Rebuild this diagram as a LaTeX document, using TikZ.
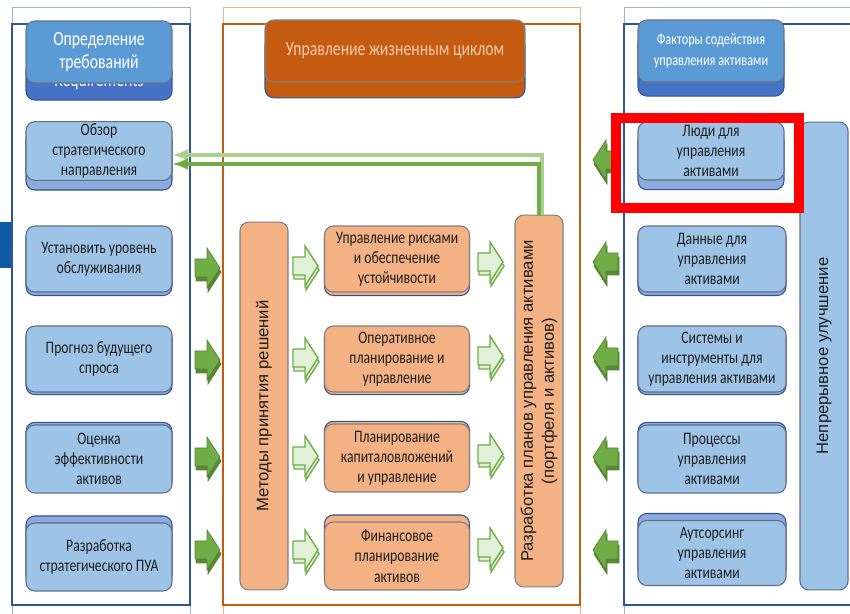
\documentclass[tikz,border=0pt]{standalone}
\usepackage{fontspec}
\setmainfont{Carlito}[FakeStretch=0.78]
\newfontfamily\sidefont{Liberation Sans}
\usetikzlibrary{arrows,shadows,calc}

\definecolor{boxblue}{HTML}{9DC3E6}
\definecolor{backblue}{HTML}{8FAADC}
\definecolor{edgeblue}{HTML}{2F5597}
\definecolor{headblue}{HTML}{5B9BD5}
\definecolor{headback}{HTML}{4472C4}
\definecolor{tabblue}{HTML}{0E5AA7}
\definecolor{rust}{HTML}{C55A11}
\definecolor{peach}{HTML}{F4B183}
\definecolor{peachtext}{HTML}{F8CBAD}
\definecolor{leaf}{HTML}{70AD47}
\definecolor{leafdark}{HTML}{548235}
\definecolor{leaflight}{HTML}{A9D18E}
\definecolor{mint}{HTML}{E2F0D9}
\definecolor{inkgray}{HTML}{1F1F1F}

\begin{document}
\begin{tikzpicture}[
        x=0.02cm, y=-0.02cm,
        every node/.style={inner sep=1pt, align=center, text=inkgray},
        box/.style={rounded corners=5pt, line width=0.6pt,
            minimum width=2.92cm, font=\fontsize{10}{11.5}\selectfont},
        bluebox/.style={box, fill=boxblue, draw=gray!60!edgeblue,
            general shadow={fill=backblue, draw=edgeblue, shadow yshift=#1}},
        bluebox/.default=-2pt,
        peachbox/.style={box, fill=peach, draw=gray,
            general shadow={fill=peach, draw=edgeblue, shadow yshift=#1}},
        peachbox/.default=-2pt,
        headbox/.style={box, minimum height=1.24cm,
            font=\fontsize{11.5}{13.5}\selectfont},
        sidebar/.style={rounded corners=5pt, line width=0.6pt, draw=gray,
            rotate=90, minimum height=0.96cm,
            font=\sidefont\fontsize{9.5}{12}\selectfont},
        fatarrow/.pic={
            \path[pic actions] (0,-9) -- (12,-9) -- (12,-20) -- (25,0)
                -- (12,20) -- (12,9) -- (0,9) -- cycle;
        },
        solidarrow/.style={fill=leaf, draw=leafdark, line width=0.4pt},
        solidback/.style={fill=leafdark!85!leaf, draw=leafdark, line width=0.4pt},
        hollowarrow/.style={fill=mint, draw=leaf, line width=0.8pt},
        feedback/.style={line width=2pt, -latex},
        highlight/.style={draw=red, line width=6.2pt}
    ]

    \useasboundingbox (0,0) rectangle (850,614);
    \clip (0,0) rectangle (850,614);

    % panels
    \fill[tabblue] (0,222) rectangle (12,268);
    \draw[edgeblue!45, line width=0.5pt] (12,7) rectangle (190,630);
    \draw[edgeblue, line width=0.9pt] (12,24) rectangle (190,605);
    \draw[rust!45, line width=0.5pt] (223,7) rectangle (580,630);
    \draw[rust, line width=0.9pt] (223,24) rectangle (580,605);
    \draw[edgeblue!45, line width=0.5pt] (624,7) rectangle (870,630);
    \draw[edgeblue, line width=0.9pt] (624,24) rectangle (870,605);

    % left column
    \node[headbox, fill=headback, draw=edgeblue, text=white, minimum height=0.76cm]
        (reqback) at (99,81) {Requirements};
    \node[headbox, fill=headblue, draw=gray!70!edgeblue, text=white]
        (req) at (99,52) {Определение\\требований};
    \node[bluebox=-5.5pt, minimum height=1.16cm] (review) at (99,151)
        {Обзор\\стратегического\\направления};
    \node[bluebox, minimum height=1.32cm] (service) at (99,259)
        {Установить уровень\\обслуживания};
    \node[bluebox=-1.5pt, minimum height=1.32cm] (demand) at (99,359)
        {Прогноз будущего\\спроса};
    \node[bluebox=1.5pt, minimum height=1.36cm] (perf) at (99,459)
        {Оценка\\эффективности\\активов};
    \node[bluebox=4pt, minimum height=1.36cm] (strat) at (99,557)
        {Разработка\\стратегического ПУА};

    % middle column
    \node[headbox, fill=rust, draw=gray, text=peachtext, minimum width=5.2cm,
        general shadow={fill=rust, draw=edgeblue, shadow yshift=-9pt}]
        (life) at (395,51) {Управление жизненным циклом};
    \node[sidebar, fill=peach, minimum width=7.36cm] (methods) at (264,406)
        {Методы принятия  решений};
    \node[peachbox, minimum width=2.9cm, minimum height=1.32cm] (risk) at (397,259)
        {Управление рисками\\и обеспечение\\устойчивости};
    \node[peachbox=-1.5pt, minimum width=2.9cm, minimum height=1.32cm] (oper) at (397,359)
        {Оперативное\\планирование и\\управление};
    \node[peachbox=1.5pt, minimum width=2.9cm, minimum height=1.36cm] (capex) at (397,458)
        {Планирование\\капиталовложений\\и управление};
    \node[peachbox=4pt, minimum width=2.9cm, minimum height=1.36cm] (finance) at (397,556)
        {Финансовое\\планирование\\активов};
    \node[sidebar, fill=peach, minimum width=7.44cm] (plans) at (539,401)
        {Разработка планов управления активами\\(портфеля и активов)};

    % right column
    \node[headbox, fill=headblue, draw=gray!70!edgeblue, text=white,
        font=\fontsize{9}{12}\selectfont,
        general shadow={fill=headback, draw=edgeblue, shadow yshift=-8pt}]
        (enablers) at (711,51) {Факторы содействия\\управления активами};
    \node[bluebox=-5.5pt, minimum height=1.16cm] (people) at (711,151)
        {Люди для\\управления\\активами};
    \node[bluebox, minimum width=2.96cm, minimum height=1.32cm] (data) at (712,259)
        {Данные для\\управления\\активами};
    \node[bluebox=-1.5pt, minimum width=2.96cm, minimum height=1.32cm] (tools) at (712,359)
        {Системы и\\инструменты для\\управления активами};
    \node[bluebox=1.5pt, minimum width=2.96cm, minimum height=1.36cm] (procs) at (712,459)
        {Процессы\\управления\\активами};
    \node[bluebox=4pt, minimum width=2.96cm, minimum height=1.3cm] (outsrc) at (712,553)
        {Аутсорсинг\\управления\\активами};
    \node[sidebar, fill=boxblue, draw=gray!60!edgeblue, minimum width=9.36cm]
        (improve) at (824,356) {Непрерывное улучшение};

    % arrows into the life cycle
    \pic[solidback] at (196,272) {fatarrow};
    \pic[solidarrow] at (195,268) {fatarrow};
    \pic[solidback] at (196,364) {fatarrow};
    \pic[solidarrow] at (195,360) {fatarrow};
    \pic[solidback] at (196,461) {fatarrow};
    \pic[solidarrow] at (195,457) {fatarrow};
    \pic[solidback] at (196,554) {fatarrow};
    \pic[solidarrow] at (195,550) {fatarrow};

    \pic[hollowarrow] at (294,270) {fatarrow};
    \pic[hollowarrow] at (293,266) {fatarrow};
    \pic[hollowarrow] at (294,362) {fatarrow};
    \pic[hollowarrow] at (293,358) {fatarrow};
    \pic[hollowarrow] at (294,460) {fatarrow};
    \pic[hollowarrow] at (293,456) {fatarrow};
    \pic[hollowarrow] at (294,554) {fatarrow};
    \pic[hollowarrow] at (293,550) {fatarrow};

    \pic[hollowarrow] at (479,266) {fatarrow};
    \pic[hollowarrow] at (478,262) {fatarrow};
    \pic[hollowarrow] at (479,360) {fatarrow};
    \pic[hollowarrow] at (478,356) {fatarrow};
    \pic[hollowarrow] at (479,458) {fatarrow};
    \pic[hollowarrow] at (478,454) {fatarrow};
    \pic[hollowarrow] at (479,552) {fatarrow};
    \pic[hollowarrow] at (478,548) {fatarrow};

    % enablers feed back
    \pic[solidback, xscale=-1] at (619,164) {fatarrow};
    \pic[solidarrow, xscale=-1] at (618,160) {fatarrow};
    \pic[solidback, xscale=-1] at (619,266) {fatarrow};
    \pic[solidarrow, xscale=-1] at (618,262) {fatarrow};
    \pic[solidback, xscale=-1] at (619,361) {fatarrow};
    \pic[solidarrow, xscale=-1] at (618,357) {fatarrow};
    \pic[solidback, xscale=-1] at (619,461) {fatarrow};
    \pic[solidarrow, xscale=-1] at (618,457) {fatarrow};
    \pic[solidback, xscale=-1] at (619,554) {fatarrow};
    \pic[solidarrow, xscale=-1] at (618,550) {fatarrow};

    % plans back to strategic review
    \draw[feedback, leaflight] ($(plans.east)+(3,0)$) |- ($(review.east)+(0,4)$);
    \draw[feedback, leaf] (plans.east) |- ($(review.east)+(0,13)$);

    \draw[highlight] (616,118) rectangle (799,208);
\end{tikzpicture}
\end{document}
